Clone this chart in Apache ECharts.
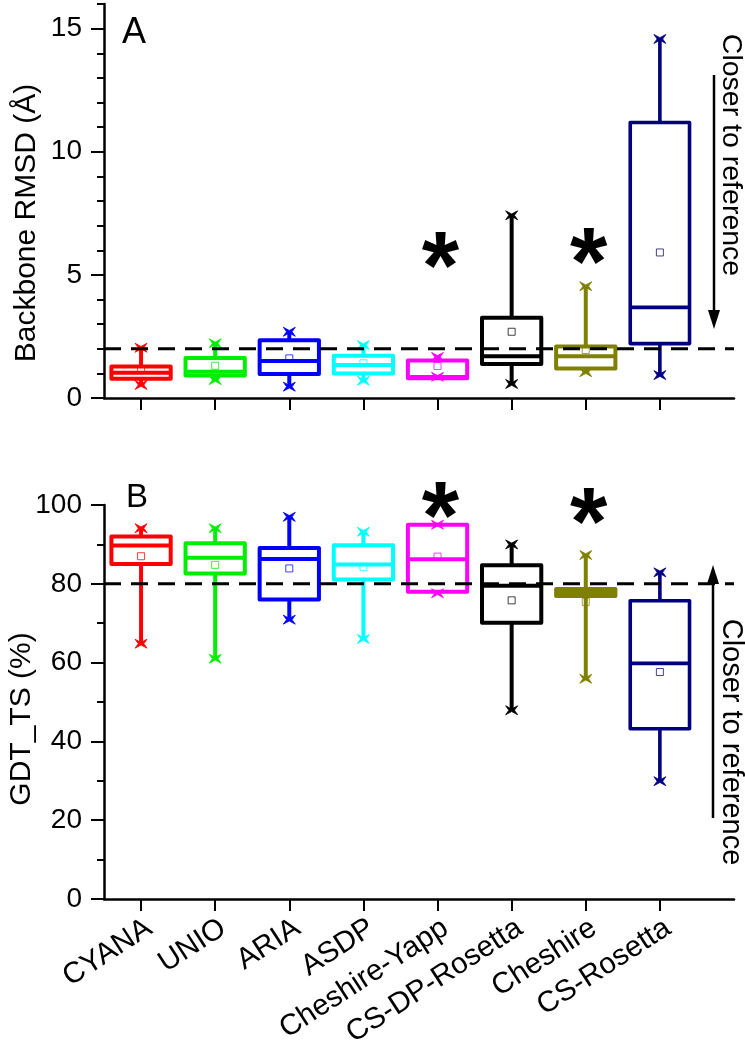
<!DOCTYPE html>
<html><head><meta charset="utf-8">
<script src="https://cdn.jsdelivr.net/npm/echarts@6/dist/echarts.min.js"></script>
<style>html,body{margin:0;padding:0;background:#fff}#c{width:745px;height:1050px}</style>
</head><body><div id="c"></div>
<script>
const categories = ['CYANA','UNIO','ARIA','ASDP','Cheshire-Yapp','CS-DP-Rosetta','Cheshire','CS-Rosetta'];
const colors = ['#ff0000','#00ee00','#0000ff','#00ffff','#ff00ff','#000000','#808000','#000080'];

// Panel A: Backbone RMSD (Å)
const rmsdMin    = [0.53, 0.73, 0.46, 0.70, 0.86, 0.57, 1.05, 0.93];
const rmsdQ1     = [0.78, 0.91, 0.97, 0.99, 0.80, 1.38, 1.20, 2.21];
const rmsdMedian = [1.03, 1.07, 1.50, 1.34, 0.85, 1.70, 1.70, 3.68];
const rmsdQ3     = [1.28, 1.62, 2.35, 1.72, 1.52, 3.26, 2.09, 11.19];
const rmsdMax    = [2.04, 2.22, 2.69, 2.15, 1.67, 7.42, 4.54, 14.58];
const rmsdMean   = [1.13, 1.31, 1.61, 1.41, 1.30, 2.69, 1.95, 5.91];
const rmsdRef = 2;
const rmsdTicks = [0, 5, 10, 15];

// Panel B: GDT_TS (%)
const gdtMin    = [64.8, 61.0, 70.9, 66.0, 77.6, 47.9, 55.9, 29.9];
const gdtQ1     = [85.0, 82.6, 76.0, 81.1, 78.0, 70.1, 76.9, 43.2];
const gdtMedian = [89.7, 86.6, 86.3, 84.9, 86.2, 79.5, 77.8, 59.8];
const gdtQ3     = [92.0, 90.3, 89.1, 89.8, 95.0, 84.7, 78.7, 75.7];
const gdtMax    = [94.1, 94.1, 97.0, 93.2, 95.0, 90.0, 87.3, 82.9];
const gdtMean   = [87.0, 84.8, 83.9, 84.3, 86.9, 75.8, 75.4, 57.6];
const gdtRef = 80;

// significance stars: category index and value of star centre
const starCatsA = [4, 6];
const starValsA = [5.92, 6.08];
const starCatsB = [4, 6];
const starValsB = [100.5, 99.2];

const FONT = 'Liberation Sans, Arial, sans-serif';
const catPos = categories.map((c, i) => i + 0.5);
const xMax = categories.length + 0.5;

function rows(mn, q1, md, q3, mx, mean) {
  return categories.map((c, i) => [catPos[i], mn[i], q1[i], md[i], q3[i], mx[i], mean[i]]);
}

function marker(px, py, color) {
  const pts = [[-6,-4.5],[0,-1.3],[6,-4.5],[2.8,0],[6,4.5],[0,1.3],[-6,4.5],[-2.8,0]];
  return { type: 'polygon', shape: { points: pts.map(p => [px + p[0], py + p[1]]) },
           style: { fill: color, stroke: color, lineWidth: 0.8 } };
}

function boxRender(params, api) {
  const i = params.dataIndex;
  const color = colors[i];
  const lw = i === 7 ? 3.6 : 4;
  const x = api.value(0);
  const pMin = api.coord([x, api.value(1)]);
  const pQ1 = api.coord([x, api.value(2)]);
  const pMed = api.coord([x, api.value(3)]);
  const pQ3 = api.coord([x, api.value(4)]);
  const pMax = api.coord([x, api.value(5)]);
  const pMean = api.coord([x, api.value(6)]);
  const hw = api.size([0.8, 0])[0] / 2;
  const cx = pMed[0];
  const ch = [];
  if (pMax[1] < pQ3[1]) ch.push({ type: 'line', shape: { x1: cx, y1: pQ3[1], x2: cx, y2: pMax[1] }, style: { stroke: color, lineWidth: lw } });
  if (pMin[1] > pQ1[1]) ch.push({ type: 'line', shape: { x1: cx, y1: pQ1[1], x2: cx, y2: pMin[1] }, style: { stroke: color, lineWidth: lw } });
  ch.push({ type: 'rect', shape: { x: cx - hw, y: pQ3[1], width: 2 * hw, height: pQ1[1] - pQ3[1] },
            style: { fill: 'none', stroke: color, lineWidth: lw, lineJoin: 'round' } });
  ch.push({ type: 'line', shape: { x1: cx - hw, y1: pMed[1], x2: cx + hw, y2: pMed[1] }, style: { stroke: color, lineWidth: lw } });
  ch.push({ type: 'rect', shape: { x: cx - 3.5, y: pMean[1] - 3.5, width: 7, height: 7 },
            style: { fill: 'none', stroke: color, lineWidth: 1, opacity: 0.75 } });
  ch.push(marker(cx, pMax[1], color));
  ch.push(marker(cx, pMin[1], color));
  return { type: 'group', children: ch };
}

function starRender(params, api) {
  const p = api.coord([api.value(0), api.value(1)]);
  return { type: 'text', x: p[0] + 3, y: p[1] + 19,
           style: { text: '*', fontSize: 96, fontWeight: 'bold', fontFamily: FONT, fill: '#000', align: 'center', verticalAlign: 'middle' } };
}

const axisCol = '#000';
function xAxisDef(gridIndex, showLabels) {
  return {
    type: 'value', gridIndex, min: 0, max: xMax,
    axisLine: { show: true, onZero: false, lineStyle: { color: axisCol, width: 2.5 } },
    axisTick: { show: true, customValues: catPos, length: 12, lineStyle: { color: axisCol, width: 2 } },
    axisLabel: { show: showLabels, customValues: catPos, rotate: 33, fontSize: 29.5, fontFamily: FONT, color: '#000', margin: 14,
                 verticalAlign: 'top',
                 formatter: v => categories[Math.round(v - 0.5)] },
    splitLine: { show: false }
  };
}

const option = {
  backgroundColor: '#fff',
  animation: false,
  grid: [
    { left: 104, top: 4, width: 630, height: 394, outerBoundsMode: 'none', containLabel: false },
    { left: 104, top: 505, width: 630, height: 394, outerBoundsMode: 'none', containLabel: false }
  ],
  xAxis: [xAxisDef(0, false), xAxisDef(1, true)],
  yAxis: [
    { type: 'value', gridIndex: 0, position: 'left', min: 0, max: 16, interval: 1,
      axisLine: { show: true, lineStyle: { color: axisCol, width: 2.5 } },
      axisTick: { show: true, length: 7, lineStyle: { color: axisCol, width: 2 } },
      axisLabel: { show: false }, splitLine: { show: false } },
    { type: 'value', gridIndex: 0, position: 'left', min: 0, max: 16,
      axisLine: { show: false },
      axisTick: { show: true, customValues: rmsdTicks, length: 13, lineStyle: { color: axisCol, width: 2 } },
      axisLabel: { show: true, customValues: rmsdTicks, fontSize: 28, fontFamily: FONT, color: '#000', margin: 22 },
      splitLine: { show: false } },
    { type: 'value', gridIndex: 1, position: 'left', min: 0, max: 100, interval: 20,
      axisLine: { show: true, lineStyle: { color: axisCol, width: 2.5 } },
      axisTick: { show: true, length: 13, lineStyle: { color: axisCol, width: 2 } },
      minorTick: { show: true, splitNumber: 2, length: 7, lineStyle: { color: axisCol, width: 2 } },
      axisLabel: { fontSize: 28, fontFamily: FONT, color: '#000', margin: 22 },
      splitLine: { show: false }, minorSplitLine: { show: false } }
  ],
  series: [
    { type: 'custom', xAxisIndex: 0, yAxisIndex: 0, z: 2, renderItem: boxRender,
      data: rows(rmsdMin, rmsdQ1, rmsdMedian, rmsdQ3, rmsdMax, rmsdMean) },
    { type: 'line', xAxisIndex: 0, yAxisIndex: 0, z: 3, symbol: 'none', silent: true,
      lineStyle: { color: '#000', width: 3, type: [17, 10] },
      data: [[0, rmsdRef], [xMax, rmsdRef]] },
    { type: 'custom', xAxisIndex: 0, yAxisIndex: 0, z: 4, renderItem: starRender,
      data: starCatsA.map((c, k) => [catPos[c], starValsA[k]]) },
    { type: 'custom', xAxisIndex: 1, yAxisIndex: 2, z: 2, renderItem: boxRender,
      data: rows(gdtMin, gdtQ1, gdtMedian, gdtQ3, gdtMax, gdtMean) },
    { type: 'line', xAxisIndex: 1, yAxisIndex: 2, z: 3, symbol: 'none', silent: true,
      lineStyle: { color: '#000', width: 3, type: [17, 10] },
      data: [[0, gdtRef], [xMax, gdtRef]] },
    { type: 'custom', xAxisIndex: 1, yAxisIndex: 2, z: 4, renderItem: starRender,
      data: starCatsB.map((c, k) => [catPos[c], starValsB[k]]) }
  ],
  graphic: [
    { type: 'text', x: 27, y: 223, rotation: Math.PI / 2,
      style: { text: 'Backbone RMSD (Å)', fontSize: 30, fontFamily: FONT, fill: '#000', textAlign: 'center', textVerticalAlign: 'middle' } },
    { type: 'text', x: 22, y: 719, rotation: Math.PI / 2,
      style: { text: 'GDT_TS (%)', fontSize: 30, fontFamily: FONT, fill: '#000', textAlign: 'center', textVerticalAlign: 'middle' } },
    { type: 'text', left: 122, top: 15, style: { text: 'A', fontSize: 36, fontFamily: FONT, fill: '#000' } },
    { type: 'text', left: 126, top: 481, style: { text: 'B', fontSize: 33, fontFamily: FONT, fill: '#000' } },
    { type: 'text', x: 731, y: 155, rotation: -Math.PI / 2,
      style: { text: 'Closer to reference', fontSize: 28.5, fontFamily: FONT, fill: '#000', textAlign: 'center', textVerticalAlign: 'middle' } },
    { type: 'line', shape: { x1: 714, y1: 75, x2: 714, y2: 312 }, style: { stroke: '#000', lineWidth: 2.5 } },
    { type: 'polygon', shape: { points: [[708, 310], [720, 310], [714, 329]] }, style: { fill: '#000' } },
    { type: 'text', x: 731, y: 742, rotation: -Math.PI / 2,
      style: { text: 'Closer to reference', fontSize: 29, fontFamily: FONT, fill: '#000', textAlign: 'center', textVerticalAlign: 'middle' } },
    { type: 'line', shape: { x1: 713, y1: 818, x2: 713, y2: 582 }, style: { stroke: '#000', lineWidth: 2.5 } },
    { type: 'polygon', shape: { points: [[707, 584], [719, 584], [713, 565]] }, style: { fill: '#000' } }
  ]
};
const chart = echarts.init(document.getElementById('c'), null, { renderer: 'canvas' });
chart.setOption(option);
</script></body></html>
